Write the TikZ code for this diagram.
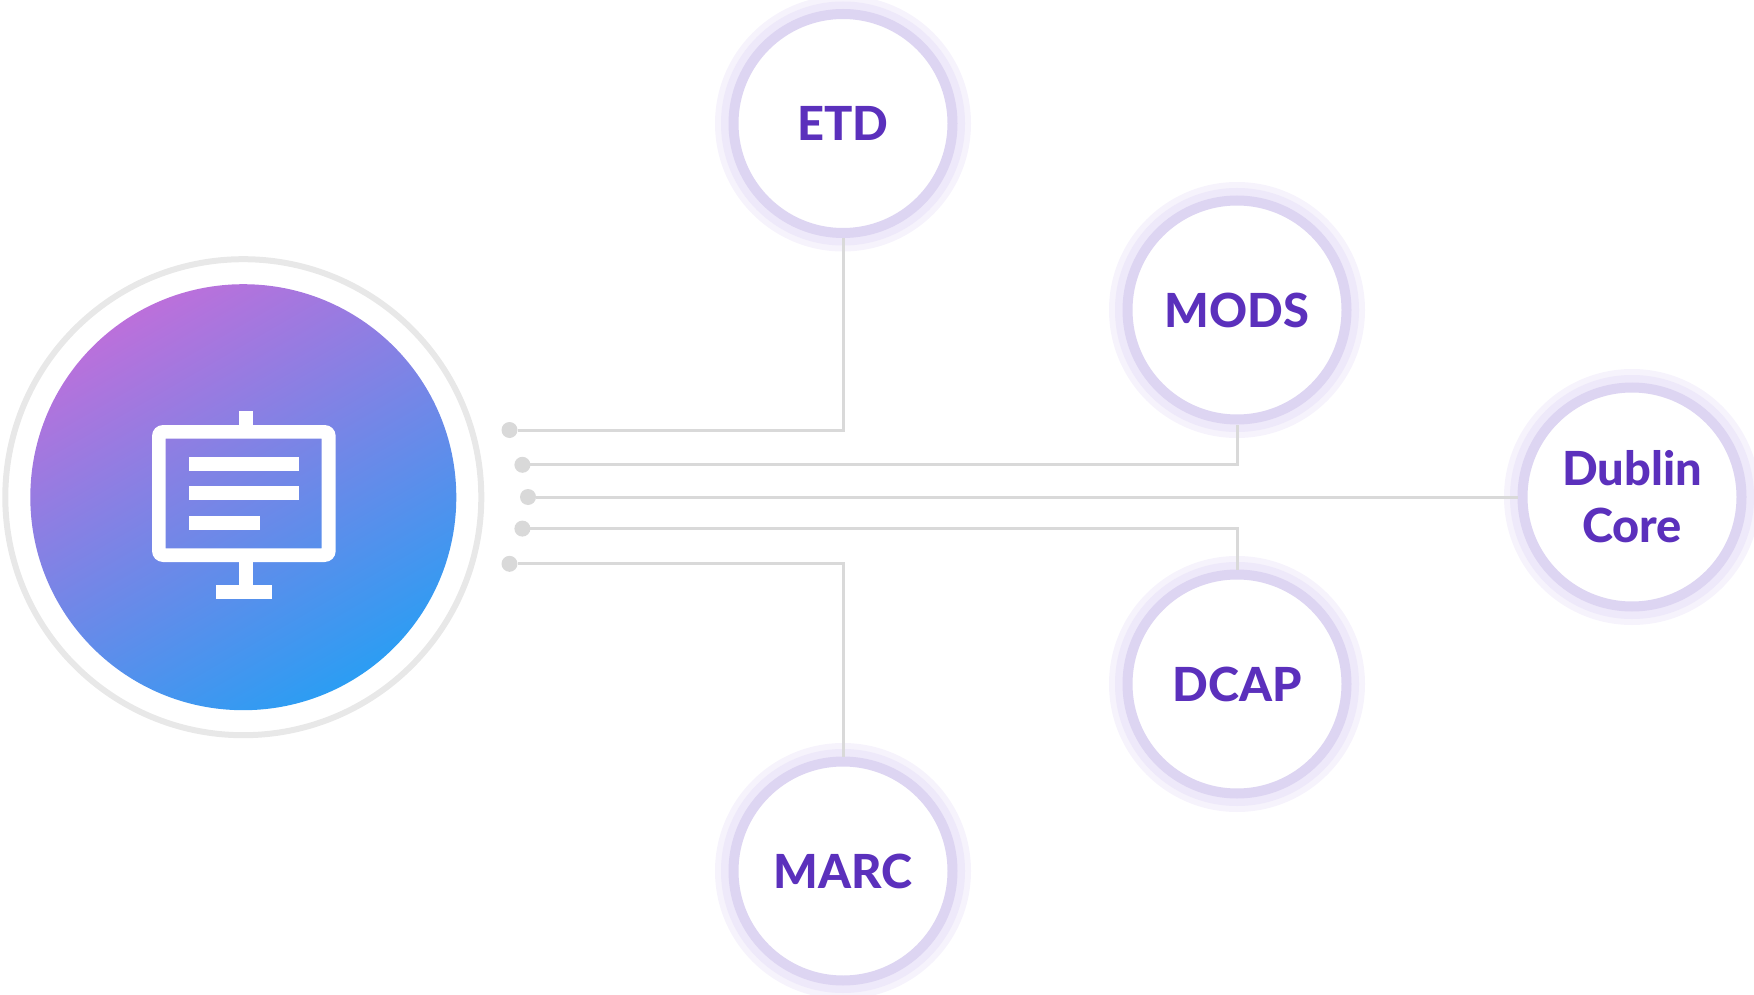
\documentclass[tikz,border=0pt]{standalone}
\usepackage{fontspec}
\setmainfont{Lato}
\newfontfamily\fmtfont{Lato Heavy}
\usetikzlibrary{backgrounds}
\definecolor{gpurple}{HTML}{BB70DB}
\definecolor{gblue}{HTML}{2C9DF3}
\definecolor{txtc}{HTML}{5B30BC}
\definecolor{bandc}{HTML}{DDD5F2}
\definecolor{haloc}{HTML}{EEE9FA}
\definecolor{halooutc}{HTML}{F6F3FC}
\definecolor{linec}{HTML}{D9D9D9}
\definecolor{ringc}{HTML}{E8E8E8}
\pgfdeclareverticalshading{hubgrad}{100bp}{color(0bp)=(gblue); color(25bp)=(gblue); color(75bp)=(gpurple); color(100bp)=(gpurple)}
\tikzset{
  fmt/.style={circle,draw=bandc,line width=10pt,fill=white,minimum size=219pt,inner sep=0pt,
    text=txtc,align=center,font=\fontsize{47}{57}\selectfont\fmtfont},
  halo/.style={fill=haloc,draw=none},
  haloout/.style={fill=halooutc,draw=none},
  dotn/.style={circle,fill=linec,draw=none,minimum size=16pt,inner sep=0pt,outer sep=0pt},
  conn/.style={draw=linec,line width=3pt},
  hubring/.style={draw=ringc,line width=6pt},
  iconpart/.style={fill=white,draw=none}
}
\begin{document}
\begin{tikzpicture}[x=1pt,y=-1pt]
\useasboundingbox (0,0) rectangle (1754,995);
% format nodes
\node[fmt] (etd) at (843,123.5) {ETD};
\node[fmt] (mods) at (1237,310) {MODS};
\node[fmt] (dublin) at (1632,497) {Dublin\\Core};
\node[fmt] (dcap) at (1237,684) {DCAP};
\node[fmt] (marc) at (843,871) {MARC};
% halos
\begin{scope}[on background layer]
\foreach \n in {etd,mods,dublin,dcap,marc}{
  \fill[haloout] (\n) circle[radius=128];
  \fill[halo] (\n) circle[radius=122];}
\end{scope}
% hub
\node[circle,minimum size=476pt,inner sep=0pt,hubring] (hubout) at (243.3,497.2) {};
\node[circle,minimum size=426pt,inner sep=0pt,shading=hubgrad,shading angle=30,draw=none] (hub) at (243.3,497.2) {};
% icon
\fill[iconpart,even odd rule]
  [rounded corners=11pt] (152,425) rectangle (335.7,562)
  [sharp corners] (165.7,438.7) rectangle (321.7,548.3);
\fill[iconpart] (239,411) rectangle (253,425);
\fill[iconpart] (239,562) rectangle (253,585);
\fill[iconpart] (216,585) rectangle (272,599);
\fill[iconpart] (188.7,456.7) rectangle (299,470.7);
\fill[iconpart] (188.7,486.3) rectangle (299,500.3);
\fill[iconpart] (188.7,516.3) rectangle (260.3,530.3);
% dots
\node[dotn] (d1) at (509.5,430) {};
\node[dotn] (d2) at (522.4,464.8) {};
\node[dotn] (d3) at (528,497) {};
\node[dotn] (d4) at (522.4,528.6) {};
\node[dotn] (d5) at (509.5,563.8) {};
% connectors
\draw[conn] (d1) -| (etd.south);
\draw[conn] (d2) -| (mods.south);
\draw[conn] (d3) -- (dublin.west);
\draw[conn] (d4) -| (dcap.north);
\draw[conn] (d5) -| (marc.north);
\end{tikzpicture}
\end{document}
